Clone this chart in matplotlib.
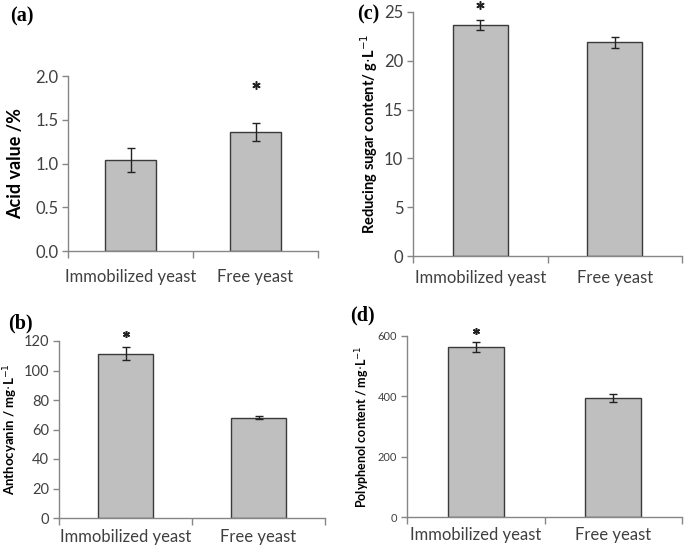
import matplotlib
matplotlib.use('Agg')
import matplotlib.pyplot as plt

plt.rcParams['font.family'] = ['Lato', 'DejaVu Sans']

groups = ['Immobilized yeast', 'Free yeast']

acid = [1.04, 1.36]
acid_err = [0.14, 0.105]
acid_star = [None, 1.90]

sugar = [23.7, 21.9]
sugar_err = [0.5, 0.55]
sugar_star = [25.7, None]

antho = [111.5, 68.0]
antho_err = [4.5, 0.9]
antho_star = [125.0, None]

poly = [564.0, 395.0]
poly_err = [16.0, 14.0]
poly_star = [617.0, None]

W, H = 685., 547.
fig = plt.figure(figsize=(6.85, 5.47), dpi=100)

axis_grey = '#868686'
text_grey = '#404040'


def make_panel(box, vals, errs, stars, ylim, yticks, fmt, ylabel, letter, letter_xy,
               tick_fs=11, cat_fs=11, lab_fs=10.5, pad=6, cat_pad=10, star_size=6):
    l, r, t, b = box
    ax = fig.add_axes([l / W, 1 - b / H, (r - l) / W, (b - t) / H])
    xs = [0.5, 1.5]
    ax.bar(xs, vals, width=0.41, color='#bfbfbf', edgecolor='#3a3a3a', lw=1.0, zorder=2)
    ax.errorbar(xs, vals, yerr=errs, fmt='none', ecolor='#222222', elinewidth=1.0,
                capsize=3, capthick=1.0, zorder=3)
    for x, s in zip(xs, stars):
        if s is not None:
            ax.plot([x], [s], marker=(6, 2, 0), ms=star_size, mew=1.1, color='#222222',
                    clip_on=False, zorder=4)
    ax.set_xlim(0, 2)
    ax.set_ylim(*ylim)
    ax.set_yticks(yticks)
    ax.set_yticklabels([fmt.format(v) for v in yticks])
    ax.set_xticks([0, 1, 2])
    ax.set_xticklabels([])
    ax.set_xticks(xs, minor=True)
    ax.set_xticklabels(groups, minor=True)
    ax.tick_params(axis='x', which='major', direction='out', length=5, color=axis_grey, width=1)
    ax.tick_params(axis='x', which='minor', length=0, labelsize=cat_fs, labelcolor=text_grey,
                   pad=cat_pad)
    ax.tick_params(axis='y', direction='out', length=4, color=axis_grey, width=1,
                   labelsize=tick_fs, labelcolor=text_grey, pad=3)
    for sp in ['top', 'right']:
        ax.spines[sp].set_visible(False)
    for sp in ['left', 'bottom']:
        ax.spines[sp].set_color(axis_grey)
        ax.spines[sp].set_linewidth(1)
    ax.set_ylabel(ylabel, fontsize=lab_fs, fontweight='bold', color='black', labelpad=pad)
    fig.text(letter_xy[0] / W, 1 - letter_xy[1] / H, letter, fontsize=14.5, fontweight='bold',
             family='Liberation Serif', ha='left', va='center')
    return ax


make_panel((68, 318, 76, 251), acid, acid_err, acid_star, (0, 2.0),
           [0, 0.5, 1.0, 1.5, 2.0], '{:.1f}', 'Acid value /%', '(a)', (10, 16),
           tick_fs=12, cat_fs=12, lab_fs=13, pad=8, cat_pad=13)

make_panel((413, 682, 12, 256), sugar, sugar_err, sugar_star, (0, 25),
           [0, 5, 10, 15, 20, 25], '{:d}', r'Reducing sugar content/ g$\cdot$L$^{-1}$', '(c)',
           (357, 14), tick_fs=12, cat_fs=12, lab_fs=10.5, pad=3, cat_pad=10)

make_panel((59, 325, 341, 518), antho, antho_err, antho_star, (0, 120),
           [0, 20, 40, 60, 80, 100, 120], '{:d}', r'Anthocyanin / mg$\cdot$L$^{-1}$', '(b)',
           (8, 323), tick_fs=10.5, cat_fs=12, lab_fs=9.5, pad=3, cat_pad=8, star_size=5)

make_panel((407, 682, 336, 517), poly, poly_err, poly_star, (0, 600),
           [0, 200, 400, 600], '{:d}', r'Polyphenol content / mg$\cdot$L$^{-1}$', '(d)',
           (350, 315), tick_fs=8, cat_fs=12, lab_fs=9, pad=4, cat_pad=7, star_size=5)

plt.savefig('out.png', dpi=100)
